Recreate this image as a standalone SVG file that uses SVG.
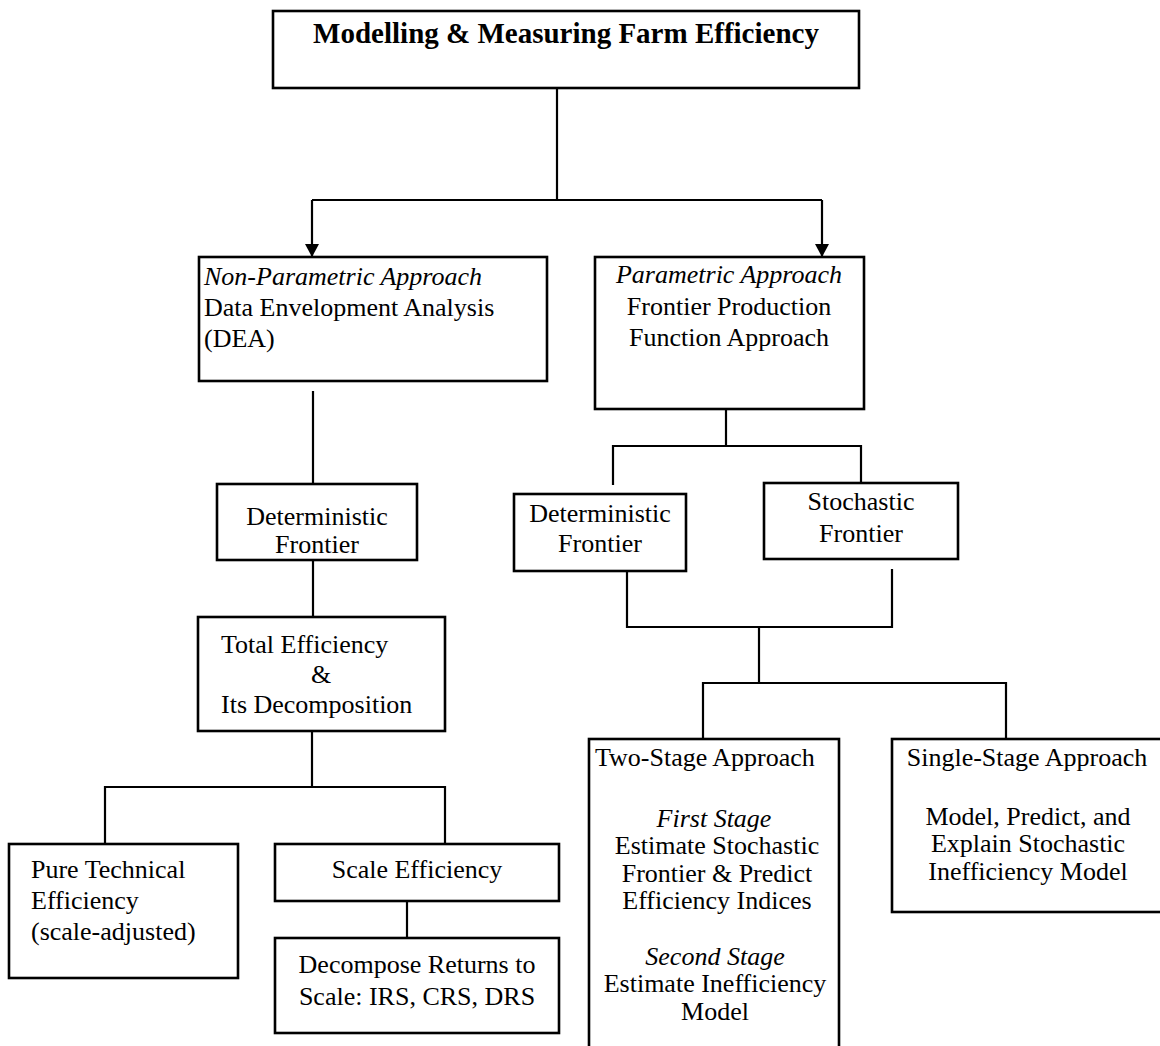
<svg xmlns="http://www.w3.org/2000/svg" width="1160" height="1046" viewBox="0 0 1160 1046">
<style>
  .box { fill: #ffffff; stroke: #000000; stroke-width: 2.6; }
  .conn { fill: none; stroke: #000000; stroke-width: 2.2; }
  text { font-family: "Liberation Serif", "Times New Roman", serif; font-size: 26px; fill: #000000; }
  .c { text-anchor: middle; }
  .i { font-style: italic; }
  .title { font-weight: bold; font-size: 29px; }
</style>
<defs>
  <marker id="arrow" markerWidth="13" markerHeight="14" refX="13" refY="7" orient="auto" markerUnits="userSpaceOnUse" viewBox="0 0 13 14">
    <path d="M0,0 L13,7 L0,14 Z" fill="#000000"/>
  </marker>
</defs>
<rect width="1160" height="1046" fill="#ffffff"/>

<g id="connectors">
  <polyline class="conn" points="557,88 557,200"/>
  <polyline class="conn" points="312,200 822,200"/>
  <line class="conn" x1="312" y1="200" x2="312" y2="257" marker-end="url(#arrow)"/>
  <line class="conn" x1="822" y1="200" x2="822" y2="257" marker-end="url(#arrow)"/>
  <line class="conn" x1="313" y1="391" x2="313" y2="484"/>
  <line class="conn" x1="313" y1="560" x2="313" y2="617"/>
  <line class="conn" x1="312" y1="731" x2="312" y2="787"/>
  <polyline class="conn" points="105,844 105,787 445,787 445,844"/>
  <line class="conn" x1="407" y1="901" x2="407" y2="938"/>
  <line class="conn" x1="726" y1="409" x2="726" y2="446"/>
  <polyline class="conn" points="613,485 613,446 861,446 861,483"/>
  <polyline class="conn" points="627,572 627,627 892,627 892,569"/>
  <line class="conn" x1="759" y1="627" x2="759" y2="683"/>
  <polyline class="conn" points="703,739 703,683 1006,683 1006,739"/>
</g>

<g id="node-root">
  <rect class="box" x="273" y="11" width="586" height="77"/>
  <text class="c title" x="566" y="43">Modelling &amp; Measuring Farm Efficiency</text>
</g>

<g id="node-nonparametric">
  <rect class="box" x="199" y="257" width="348" height="124"/>
  <text class="i" x="204" y="285">Non-Parametric Approach</text>
  <text x="204" y="316">Data Envelopment Analysis</text>
  <text x="204" y="347">(DEA)</text>
</g>

<g id="node-parametric">
  <rect class="box" x="595" y="257" width="269" height="152"/>
  <text class="c i" x="729" y="283">Parametric Approach</text>
  <text class="c" x="729" y="315">Frontier Production</text>
  <text class="c" x="729" y="346">Function Approach</text>
</g>

<g id="node-det-left">
  <rect class="box" x="217" y="484" width="200" height="76"/>
  <text class="c" x="317" y="525">Deterministic</text>
  <text class="c" x="317" y="553">Frontier</text>
</g>

<g id="node-total">
  <rect class="box" x="198" y="617" width="247" height="114"/>
  <text x="221" y="653">Total Efficiency</text>
  <text class="c" x="321" y="683">&amp;</text>
  <text x="221" y="713">Its Decomposition</text>
</g>

<g id="node-pure">
  <rect class="box" x="9" y="844" width="229" height="134"/>
  <text x="31" y="878">Pure Technical</text>
  <text x="31" y="909">Efficiency</text>
  <text x="31" y="940">(scale-adjusted)</text>
</g>

<g id="node-scale">
  <rect class="box" x="275" y="844" width="284" height="57"/>
  <text class="c" x="417" y="878">Scale Efficiency</text>
</g>

<g id="node-decompose">
  <rect class="box" x="275" y="938" width="284" height="95"/>
  <text class="c" x="417" y="973">Decompose Returns to</text>
  <text class="c" x="417" y="1005">Scale: IRS, CRS, DRS</text>
</g>

<g id="node-det-right">
  <rect class="box" x="514" y="494" width="172" height="77"/>
  <text class="c" x="600" y="522">Deterministic</text>
  <text class="c" x="600" y="552">Frontier</text>
</g>

<g id="node-stochastic">
  <rect class="box" x="764" y="483" width="194" height="76"/>
  <text class="c" x="861" y="510">Stochastic</text>
  <text class="c" x="861" y="542">Frontier</text>
</g>

<g id="node-two-stage">
  <rect class="box" x="589" y="739" width="250" height="320"/>
  <text x="595" y="766">Two-Stage Approach</text>
  <text class="c i" x="714" y="827">First Stage</text>
  <text class="c" x="717" y="854">Estimate Stochastic</text>
  <text class="c" x="717" y="882">Frontier &amp; Predict</text>
  <text class="c" x="717" y="909">Efficiency Indices</text>
  <text class="c i" x="715" y="965">Second Stage</text>
  <text class="c" x="715" y="992">Estimate Inefficiency</text>
  <text class="c" x="715" y="1020">Model</text>
</g>

<g id="node-single-stage">
  <rect class="box" x="892" y="739" width="280" height="173"/>
  <text class="c" x="1027" y="766">Single-Stage Approach</text>
  <text class="c" x="1028" y="825">Model, Predict, and</text>
  <text class="c" x="1028" y="852">Explain Stochastic</text>
  <text class="c" x="1028" y="880">Inefficiency Model</text>
</g>
</svg>
